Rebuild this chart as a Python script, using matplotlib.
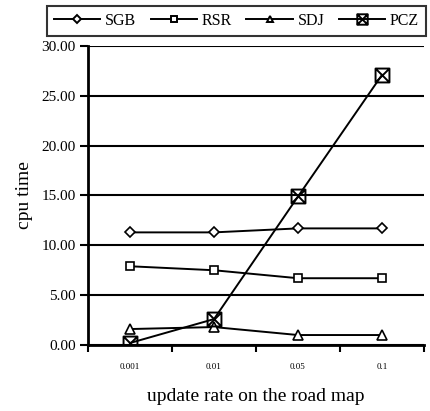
import matplotlib
matplotlib.use("Agg")
import matplotlib.pyplot as plt
from matplotlib.path import Path
from matplotlib.ticker import FixedLocator, NullFormatter

plt.rcParams['font.family'] = ['Liberation Serif', 'DejaVu Serif']

categories = ["0.001", "0.01", "0.05", "0.1"]
sgb = [11.3, 11.3, 11.7, 11.7]
rsr = [7.9, 7.5, 6.7, 6.7]
sdj = [1.6, 1.8, 1.0, 1.0]
pcz = [0.2, 2.6, 14.9, 27.1]
yticks = [0, 5, 10, 15, 20, 25, 30]

boxx = Path([(-1, -1), (1, -1), (1, 1), (-1, 1), (-1, -1), (-1, -1), (1, 1), (-1, 1), (1, -1)],
            [Path.MOVETO, Path.LINETO, Path.LINETO, Path.LINETO, Path.CLOSEPOLY,
             Path.MOVETO, Path.LINETO, Path.MOVETO, Path.LINETO])

fig = plt.figure(figsize=(4.3, 4.11), dpi=100)
ax = fig.add_axes([88/430, 1-345/411, 336/430, 299/411])

x = list(range(len(categories)))
lw = 1.4
ax.plot(x, sgb, color='black', lw=lw, marker='D', ms=5, mfc='white', mec='black', mew=1.2, label='SGB', zorder=3)
ax.plot(x, rsr, color='black', lw=lw, marker='s', ms=5.5, mfc='white', mec='black', mew=1.2, label='RSR', zorder=3)
ax.plot(x, sdj, color='black', lw=lw, marker='^', ms=6.5, mfc='white', mec='black', mew=1.2, label='SDJ', zorder=3)
ax.plot(x, pcz, color='black', lw=lw, marker=boxx, ms=10, mfc='none', mec='black', mew=1.4, label='PCZ', zorder=3)

ax.set_xlim(-0.5, len(categories) - 0.5)
ax.set_ylim(0, 30)
ax.set_yticks(yticks)
ax.set_yticklabels([f"{v:.2f}" for v in yticks], fontsize=11)
ax.set_xticks(x)
ax.set_xticklabels(categories, fontsize=6.5)
ax.tick_params(axis='x', which='major', length=0, pad=13)
ax.xaxis.set_minor_locator(FixedLocator([i - 0.5 for i in range(len(categories) + 1)]))
ax.xaxis.set_minor_formatter(NullFormatter())
ax.tick_params(axis='x', which='minor', length=5, width=1.5, direction='out')
ax.tick_params(axis='y', length=6, width=1.5, direction='out', pad=3)

ax.grid(axis='y', color='black', lw=1.5)
ax.set_axisbelow(True)
for s in ['top', 'right']:
    ax.spines[s].set_visible(False)
for s in ['left', 'bottom']:
    ax.spines[s].set_linewidth(2)
    ax.spines[s].set_zorder(4)

ax.set_ylabel("cpu time", fontsize=14, labelpad=6)
ax.set_xlabel("update rate on the road map", fontsize=14, labelpad=12)

leg = fig.legend(loc='center', bbox_to_anchor=(236.5/430, 1-21/411), ncol=4, fontsize=11.5,
                 frameon=True, fancybox=False, edgecolor='black', handlelength=2.9,
                 columnspacing=0.9, handletextpad=0.3, borderpad=0.45, borderaxespad=0)
leg.get_frame().set_linewidth(1.5)
for h, ms in zip(leg.legend_handles, [4, 4.5, 5, 7.5]):
    h.set_markersize(ms)
    h.set_linewidth(1.4)
    h.set_markeredgewidth(1.4)

fig.savefig("out.png", dpi=100)
